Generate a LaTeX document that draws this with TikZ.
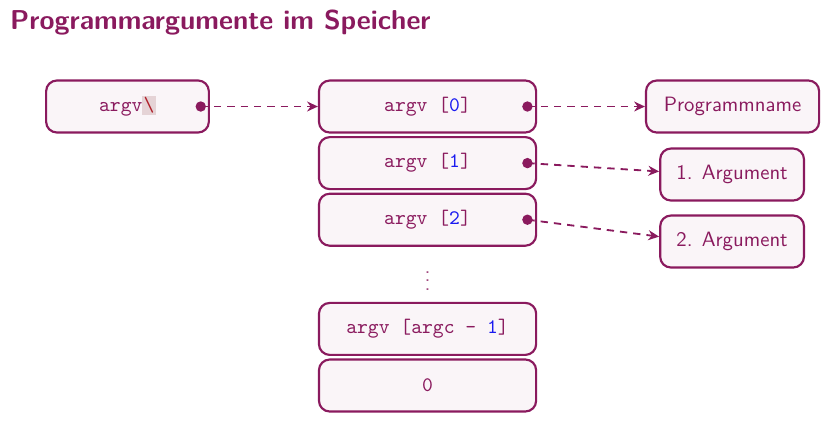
\documentclass[tikz,border=0pt]{standalone}
\usetikzlibrary{arrows.meta, positioning, calc}
\definecolor{argpurple}{HTML}{8A1A5E}
\definecolor{argfill}{HTML}{FAF5F8}
\definecolor{argblue}{HTML}{1A1AF0}
\definecolor{marked}{HTML}{E5D3D6}
\definecolor{markred}{HTML}{B0202A}

\begin{document}
\begin{tikzpicture}[font=\sffamily, node distance=0.04cm,
  cell/.style={rectangle, rounded corners=5pt, draw=argpurple, fill=argfill, line width=1pt, minimum width=3.55cm, minimum height=0.85cm, text=argpurple, font=\fontsize{9.6}{11}\selectfont\ttfamily},
  target/.style={rectangle, rounded corners=5pt, draw=argpurple, fill=argfill, line width=1pt, minimum height=0.85cm, text=argpurple, font=\fontsize{9.65}{11}\selectfont\sffamily},
  pointer/.style={-{Stealth[length=5pt, width=4.6pt, inset=1.6pt]}, dashed, dash pattern=on 3.4pt off 2.8pt, line width=0.85pt, draw=argpurple},
  dot/.style={circle, fill=argpurple, inner sep=0pt, minimum size=0.17cm}]
\useasboundingbox (0,0) rectangle (13.535,-6.883);
% title
\node[anchor=base west, inner sep=0pt, text=argpurple, font=\fontsize{12.7}{15}\selectfont\sffamily\bfseries] (title) at (0.16,-0.49) {Programmargumente im Speicher};
% pointer variable
\node[cell, minimum width=2.66cm] (argv) at (2.084,-1.741) {argv{\setlength\fboxsep{0.6pt}\colorbox{marked}{\textcolor{markred}{\textbackslash}}}};
% array of pointers
\node[cell] (a0) at (6.989,-1.741) {argv [\textcolor{argblue}{0}]};
\node[cell, below=of a0] (a1) {argv [\textcolor{argblue}{1}]};
\node[cell, below=of a1] (a2) {argv [\textcolor{argblue}{2}]};
\node[cell, below=0.9cm of a2] (alast) {argv [argc - \textcolor{argblue}{1}]};
\node[cell, below=of alast] (anull) {0};
\node[text=argpurple!80] (dots) at ($(a2.south)!0.5!(alast.north)$) {$\vdots$};
% strings
\node[target, minimum width=2.83cm] (name) at (11.975,-1.741) {Programmname};
\node[target, minimum width=2.35cm] (arg1) at (11.967,-2.853) {1. Argument};
\node[target, minimum width=2.35cm] (arg2) at (11.967,-3.948) {2. Argument};
% pointers
\node[dot] (dargv) at ([xshift=-0.15cm]argv.east) {};
\node[dot] (d0) at ([xshift=-0.16cm]a0.east) {};
\node[dot] (d1) at ([xshift=-0.16cm]a1.east) {};
\node[dot] (d2) at ([xshift=-0.16cm]a2.east) {};
\draw[pointer] (dargv.center) -- (a0.west);
\draw[pointer] (d0.center) -- (name.west);
\draw[pointer] (d1.center) -- ([yshift=0.05cm]arg1.west);
\draw[pointer] (d2.center) -- ([yshift=0.08cm]arg2.west);
\end{tikzpicture}
\end{document}
